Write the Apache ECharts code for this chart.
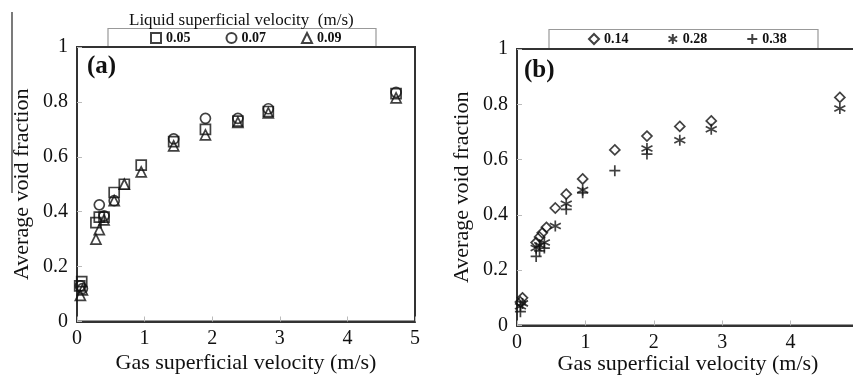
<!DOCTYPE html>
<html>
<head>
<meta charset="utf-8">
<script src="https://cdn.jsdelivr.net/npm/echarts@6/dist/echarts.min.js"></script>
<style>
  html, body { margin: 0; padding: 0; background: #fff; }
  #chart { width: 853px; height: 375px; }
</style>
</head>
<body>
<div id="chart"></div>
<script>
// Average void fraction vs. gas superficial velocity, two liquid-velocity groups
const SERIF = '"Liberation Serif", "DejaVu Serif", serif';

// Panel (a): liquid superficial velocity 0.05 / 0.07 / 0.09 m/s  -> [Ug, void fraction]
const liq005 = [[0.04,0.13],[0.07,0.145],[0.28,0.36],[0.33,0.38],[0.40,0.38],[0.55,0.47],[0.70,0.50],[0.95,0.57],[1.43,0.655],[1.90,0.70],[2.38,0.73],[2.83,0.765],[4.72,0.83]];
const liq007 = [[0.05,0.13],[0.08,0.12],[0.33,0.425],[0.40,0.385],[0.55,0.44],[1.43,0.665],[1.90,0.74],[2.38,0.74],[2.83,0.775],[4.72,0.835]];
const liq009 = [[0.05,0.095],[0.08,0.115],[0.28,0.30],[0.33,0.335],[0.40,0.37],[0.55,0.44],[0.70,0.50],[0.95,0.545],[1.43,0.64],[1.90,0.68],[2.38,0.725],[2.83,0.76],[4.72,0.815]];

// Panel (b): liquid superficial velocity 0.14 / 0.28 / 0.38 m/s
const liq014 = [[0.05,0.085],[0.08,0.10],[0.28,0.30],[0.33,0.32],[0.37,0.335],[0.43,0.355],[0.56,0.425],[0.72,0.475],[0.96,0.53],[1.43,0.635],[1.90,0.685],[2.38,0.72],[2.84,0.74],[4.72,0.825]];
const liq028 = [[0.05,0.07],[0.08,0.08],[0.28,0.28],[0.33,0.29],[0.40,0.30],[0.56,0.36],[0.72,0.44],[0.96,0.49],[1.90,0.64],[2.38,0.67],[2.84,0.71],[4.72,0.785]];
const liq038 = [[0.05,0.05],[0.28,0.25],[0.33,0.27],[0.40,0.28],[0.72,0.42],[0.96,0.48],[1.43,0.56],[1.90,0.62]];

const namesA = ['0.05', '0.07', '0.09'];
const namesB = ['0.14', '0.28', '0.38'];

const xName = 'Gas superficial velocity (m/s)';
const yName = 'Average void fraction';
const legendTitle = 'Liquid superficial velocity  (m/s)';

const ASTERISK = 'path://M5,0L5,10M0.7,2.5L9.3,7.5M0.7,7.5L9.3,2.5';
const PLUS = 'path://M5,0L5,10M0,5L10,5';

function makeX(gridIndex, gap) {
  return {
    type: 'value', gridIndex, min: 0, max: 5, interval: 1,
    name: xName, nameLocation: 'middle', nameGap: gap, nameMoveOverlap: false,
    nameTextStyle: { fontFamily: SERIF, fontSize: 22, color: '#111' },
    axisLine: { show: true, lineStyle: { color: '#333', width: 2 } },
    axisTick: { show: true, inside: true, length: 5, lineStyle: { color: '#bbb' } },
    axisLabel: { fontFamily: SERIF, fontSize: 20, color: '#111', margin: 7 },
    splitLine: { show: false }
  };
}
function makeY(gridIndex) {
  return {
    type: 'value', gridIndex, min: 0, max: 1, interval: 0.2,
    name: yName, nameLocation: 'middle', nameGap: 44, nameMoveOverlap: false,
    nameTextStyle: { fontFamily: SERIF, fontSize: 22, color: '#111' },
    axisLine: { show: true, lineStyle: { color: '#333', width: 2 } },
    axisTick: { show: true, inside: true, length: 5, lineStyle: { color: '#bbb' } },
    axisLabel: { fontFamily: SERIF, fontSize: 20, color: '#111', margin: 9 },
    splitLine: { show: false }
  };
}
function pts(name, data, symbol, size, idx) {
  return {
    type: 'scatter', name, data, symbol, symbolSize: size,
    xAxisIndex: idx, yAxisIndex: idx,
    itemStyle: { color: 'transparent', borderColor: '#111', borderWidth: 1.7 },
    emphasis: { disabled: true }
  };
}
function legend(names, left, top, gap) {
  return {
    data: names, left, top, orient: 'horizontal', padding: 0,
    itemWidth: 10, itemHeight: 10, itemGap: gap, selectedMode: false,
    textStyle: { fontFamily: SERIF, fontSize: 14, fontWeight: 'bold', color: '#111' }
  };
}

const chart = echarts.init(document.getElementById('chart'), null, { renderer: 'canvas' });
chart.setOption({
  backgroundColor: '#fff',
  animation: false,
  grid: [
    { left: 77, top: 47, width: 338, height: 274.5, show: true, borderColor: '#333', borderWidth: 2, outerBoundsMode: 'none', containLabel: false },
    { left: 517, top: 49, width: 342, height: 276.5, show: true, borderColor: '#333', borderWidth: 2, outerBoundsMode: 'none', containLabel: false }
  ],
  xAxis: [makeX(0, 31), makeX(1, 28)],
  yAxis: [makeY(0), makeY(1)],
  legend: [legend(namesA, 150, 31, 35), legend(namesB, 588, 32, 39)],
  graphic: [
    { type: 'rect', shape: { x: 108, y: 28.5, width: 268, height: 18 }, style: { fill: 'none', stroke: '#999', lineWidth: 1.2 }, z: -1 },
    { type: 'rect', shape: { x: 549, y: 29.5, width: 269, height: 19 }, style: { fill: 'none', stroke: '#999', lineWidth: 1.2 }, z: -1 },
    { type: 'text', left: 129, top: 12, style: { text: legendTitle, font: '17px ' + SERIF, fill: '#111' } },
    { type: 'text', left: 87, top: 54, style: { text: '(a)', font: 'bold 25px ' + SERIF, fill: '#111' } },
    { type: 'text', left: 524, top: 58, style: { text: '(b)', font: 'bold 25px ' + SERIF, fill: '#111' } },
    { type: 'line', shape: { x1: 12, y1: 12, x2: 12, y2: 193 }, style: { stroke: '#222', lineWidth: 1.2 } }
  ],
  series: [
    pts(namesA[0], liq005, 'rect', 10, 0),
    pts(namesA[1], liq007, 'circle', 10, 0),
    pts(namesA[2], liq009, 'triangle', 10, 0),
    pts(namesB[0], liq014, 'diamond', 10, 1),
    pts(namesB[1], liq028, ASTERISK, 11, 1),
    pts(namesB[2], liq038, PLUS, 11, 1)
  ]
});
</script>
</body>
</html>
